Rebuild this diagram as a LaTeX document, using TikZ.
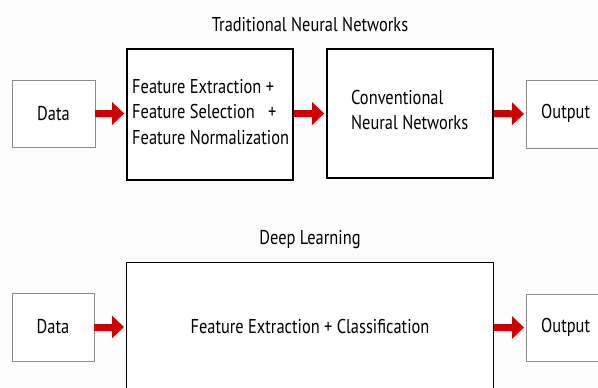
\documentclass[tikz,border=0pt]{standalone}
\usepackage{fontspec}
\setmainfont[FakeStretch=0.82]{PT Sans}
\usetikzlibrary{arrows.meta}
\begin{document}
\begin{tikzpicture}[x=1pt,y=-1pt,
  thinbox/.style={draw=black!45,line width=0.8pt,fill=white,inner sep=0pt},
  thickbox/.style={draw=black,line width=1.6pt,fill=white,inner sep=0pt},
  lbl/.style={font=\fontsize{20}{25.5}\selectfont,inner sep=0pt},
  redarrow/.style={draw=red!80!black,line width=7pt,shorten >=2pt,
    -{Triangle[width=22pt,length=12pt]}}]
\useasboundingbox (0,0) rectangle (598,388);
\clip (0,0) rectangle (598,388);
\fill[white!99!black] (0,0) rectangle (598,388);
% top row
\node[lbl] (t1) at (310,25) {Traditional Neural Networks};
\node[thinbox,minimum width=83pt,minimum height=67pt] (d1) at (53.5,113.5) {};
\node[lbl] at (d1.center) {Data};
\node[thickbox,minimum width=166pt,minimum height=131pt] (fe) at (210,114.5) {};
\node[lbl,anchor=west,align=left] (fet) at (132,112) {Feature Extraction +\\Feature Selection \ \ +\\Feature Normalization};
\node[thickbox,minimum width=166pt,minimum height=129pt] (cn) at (410,113.5) {};
\node[lbl,anchor=west,align=left] (cnt) at (351,110) {Conventional\\Neural Networks};
\node[thinbox,minimum width=100pt,minimum height=68pt,anchor=west] (o1) at (526,114) {};
\node[lbl,anchor=west] at (541,113) {Output};
\draw[redarrow] (d1.east) -- (d1.east -| fe.west);
\draw[redarrow] (fe.east |- cn.west) -- (cn.west);
\draw[redarrow] (cn.east) -- (o1.west);
% bottom row
\node[lbl] (t2) at (310,240) {Deep Learning};
\node[thinbox,minimum width=82pt,minimum height=68pt] (d2) at (53,327) {};
\node[lbl] at (d2.center) {Data};
\node[thickbox,line width=1.3pt,minimum width=367pt,minimum height=160pt,anchor=north west] (dl) at (126,262) {};
\node[lbl] (dlt) at (310,326) {Feature Extraction + Classification};
\node[thinbox,minimum width=100pt,minimum height=67pt,anchor=west] (o2) at (526,327.5) {};
\node[lbl,anchor=west] at (541,327) {Output};
\draw[redarrow] (d2.east) -- (d2.east -| dl.west);
\draw[redarrow] (dl.east |- o2.west) -- (o2.west);
\end{tikzpicture}
\end{document}
